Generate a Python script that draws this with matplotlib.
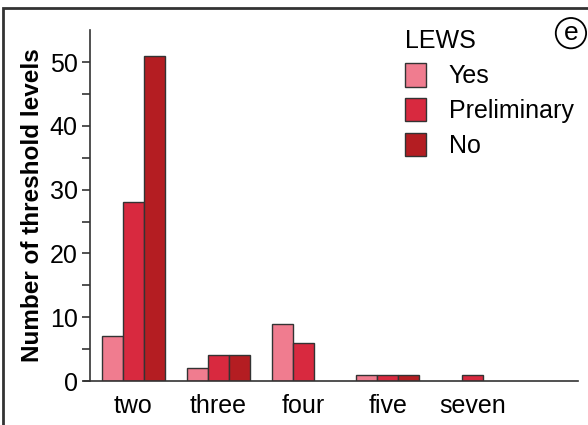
import numpy as np
import matplotlib
matplotlib.use("Agg")
import matplotlib.pyplot as plt
from matplotlib.patches import Rectangle

plt.rcParams['font.family'] = ['Liberation Sans', 'DejaVu Sans']

# Dados
categorias = ["two", "three", "four", "five", "seven"]
series = ["Yes", "Preliminary", "No"]
valores_yes = [7, 2, 9, 1, 0]
valores_prelim = [28, 4, 6, 1, 1]
valores_no = [51, 4, 0, 1, 0]
cores = ["#F07C8F", "#D8293F", "#B41D22"]

fig = plt.figure(figsize=(5.88, 4.25), dpi=100)
ax = fig.add_axes([0.143, 0.1035, 0.84, 0.8255])

x = np.arange(len(categorias))
w = 0.247
for i, (nome, vals) in enumerate(zip(series, [valores_yes, valores_prelim, valores_no])):
    vals = np.array(vals, dtype=float)
    mask = vals > 0
    ax.bar(x[mask] + (i - 1) * w, vals[mask], width=w, color=cores[i],
           edgecolor="#333333", linewidth=1.0, label=nome)

ax.set_xlim(-0.58, 5.24)
ax.set_ylim(0, 55)
ax.spines['left'].set_position(('data', -0.51))
ax.spines['left'].set_bounds(0, 55)
for s in ['top', 'right']:
    ax.spines[s].set_visible(False)
for s in ['left', 'bottom']:
    ax.spines[s].set_color("#333333")
    ax.spines[s].set_linewidth(1.2)

ax.set_yticks([0, 10, 20, 30, 40, 50])
ax.set_yticks(np.arange(5, 55, 10), minor=True)
ax.tick_params(axis='y', which='both', direction='out', length=6, width=1.2,
               color="#333333", labelsize=18, pad=3)
ax.set_xticks(x)
ax.set_xticklabels(categorias)
ax.tick_params(axis='x', length=0, labelsize=18, pad=9)

ax.set_ylabel("Number of threshold levels", fontsize=17.5, fontweight='bold', labelpad=4)

leg = ax.legend(title="LEWS", loc="upper left", bbox_to_anchor=(0.62, 1.045),
                frameon=False, fontsize=18, title_fontsize=18,
                handlelength=0.84, handleheight=1.08, handletextpad=0.9,
                labelspacing=0.38, alignment='left', borderaxespad=0.2)

fig.text(0.971, 0.922, "e", fontsize=19, ha='center', va='center',
         bbox=dict(boxstyle="circle,pad=0.12", fc="white", ec="black", lw=1.3))

fig.patches.append(Rectangle((0.005, -0.1), 1.2, 1.1 - 8 / 425, transform=fig.transFigure,
                             fill=False, ec="#333333", lw=2))

fig.savefig("out.png", dpi=100)
